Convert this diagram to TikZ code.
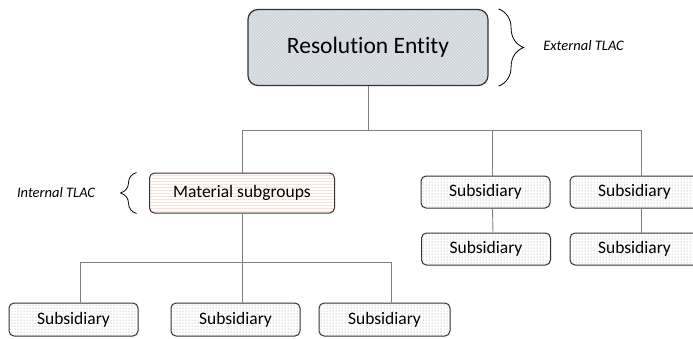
\documentclass[tikz,border=0pt]{standalone}
\usepackage{fontspec}
\setmainfont{Carlito}[Ligatures=NoCommon]
\usetikzlibrary{patterns,decorations.pathreplacing}
\definecolor{reblue}{HTML}{DCE2EB}
\definecolor{matpink}{HTML}{FAE1D6}
\definecolor{linkgray}{HTML}{808080}
\begin{document}
\begin{tikzpicture}[x=1pt,y=-1pt,
  box/.style={draw=black!80,line width=1pt,rounded corners=5pt,inner sep=0pt,
    minimum width=129pt,minimum height=32pt,text=black},
  subbox/.style={box,pattern=dots,pattern color=black!40,font=\fontsize{17.5}{20}\selectfont},
  link/.style={draw=linkgray,line width=0.9pt},
  bracepath/.style={decorate,decoration={brace,amplitude=#1},line width=0.8pt},
  tlac/.style={font=\itshape\fontsize{14.5}{17}\selectfont}]
\clip (0,0) rectangle (693,338);
\node[box,minimum width=240pt,minimum height=76pt,rounded corners=10pt,line width=1.2pt,
  preaction={fill=reblue},pattern=north east lines,pattern color=black!20,
  font=\fontsize{23.5}{28}\selectfont] (re) at (368,47.5) {Resolution Entity};
\node[box,minimum width=185pt,minimum height=40pt,pattern=horizontal lines,
  pattern color=matpink,font=\fontsize{17.5}{20}\selectfont] (mat) at (242,193) {Material subgroups};
\node[subbox] (sr1) at (485.5,192) {Subsidiary};
\node[subbox] (sr2) at (634.5,192) {Subsidiary};
\node[subbox] (sr1b) at (486,249) {Subsidiary};
\node[subbox] (sr2b) at (634.5,249) {Subsidiary};
\node[subbox,minimum height=33pt] (sb1) at (73.5,319.5) {Subsidiary};
\node[subbox,minimum height=33pt] (sb2) at (235.5,319.5) {Subsidiary};
\node[subbox,minimum height=33pt,minimum width=131pt] (sb3) at (384.5,319.5) {Subsidiary};
\node[tlac] (ext) at (583.5,46) {External TLAC};
\node[tlac] (int) at (56,193) {Internal TLAC};
\draw [link] (re.south) -- ++(0,44) coordinate (hub);
\draw [link] (mat.north) |- (hub) -| ([xshift=7pt]sr2.north);
\draw [link] ([xshift=7pt]sr1.north) -- ([xshift=7pt]sr1.north |- hub);
\draw [link] ([xshift=7pt]sr1.south) -- ([xshift=7pt]sr1b.north);
\draw [link] ([xshift=7pt]sr2.south) -- ([xshift=7pt]sr2b.north);
\draw [link] (mat.south) -- ++(0,49) coordinate (fork);
\draw [link] ([xshift=7pt]sb1.north) |- (fork) -| ([xshift=7pt]sb3.north);
\draw [link] (fork) -- (fork |- sb2.north);
\draw [bracepath=25pt] ([xshift=10pt]re.north east) -- ([xshift=10pt]re.south east);
\draw [bracepath=16pt] ([xshift=-12.5pt]mat.south west) -- ([xshift=-12.5pt]mat.north west);
\end{tikzpicture}
\end{document}
